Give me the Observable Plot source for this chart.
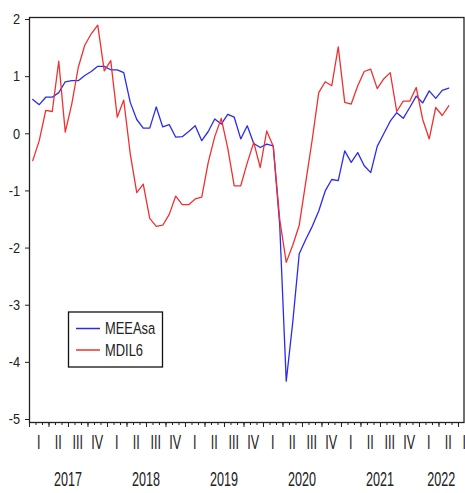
<!DOCTYPE html>
<html>
<head>
<meta charset="utf-8">
<script src="https://cdn.jsdelivr.net/npm/d3@7"></script>
<script src="https://cdn.jsdelivr.net/npm/@observablehq/plot@0.6"></script>
<style>
  html, body { margin: 0; padding: 0; background: #fff; }
  #chart svg { display: block; }
</style>
</head>
<body>
<div id="chart"></div>
<script>
// ---- Data (monthly, starting January 2017) ----
const startYear = 2017;
const seriesNames = ["MEEAsa", "MDIL6"];
const seriesColors = ["#2b2bf0", "#f03030"];

const meeasa = [
  0.60, 0.51, 0.64, 0.64, 0.72, 0.91, 0.93, 0.93, 1.02, 1.09,
  1.18, 1.18, 1.12, 1.12, 1.07, 0.55, 0.25, 0.10, 0.10, 0.47,
  0.12, 0.16, -0.06, -0.05, 0.04, 0.14, -0.12, 0.04, 0.26, 0.17,
  0.34, 0.29, -0.09, 0.14, -0.17, -0.24, -0.18, -0.21, -1.60, -4.33,
  -3.30, -2.10, -1.85, -1.62, -1.35, -1.00, -0.80, -0.82, -0.30, -0.50,
  -0.33, -0.56, -0.68, -0.22, 0.00, 0.22, 0.37, 0.27, 0.46, 0.66,
  0.54, 0.75, 0.62, 0.76, 0.80
];
const mdil6 = [
  -0.47, -0.12, 0.41, 0.39, 1.27, 0.03, 0.52, 1.16, 1.55, 1.75,
  1.90, 1.10, 1.28, 0.29, 0.59, -0.35, -1.03, -0.88, -1.48, -1.62,
  -1.60, -1.41, -1.09, -1.24, -1.24, -1.14, -1.11, -0.50, -0.05, 0.27,
  -0.25, -0.91, -0.91, -0.51, -0.15, -0.59, 0.05, -0.22, -1.50, -2.25,
  -1.95, -1.60, -0.85, -0.10, 0.72, 0.91, 0.84, 1.52, 0.55, 0.52,
  0.84, 1.09, 1.13, 0.79, 0.96, 1.07, 0.39, 0.57, 0.57, 0.81,
  0.25, -0.09, 0.46, 0.32, 0.49
];

const quarterLabels = ["I", "II", "III", "IV"];
const yearLabels = ["2017", "2018", "2019", "2020", "2021", "2022"];
const yTicks = [2, 1, 0, -1, -2, -3, -4, -5];

// ---- Build table ----
const rows = [];
[meeasa, mdil6].forEach((arr, s) => {
  arr.forEach((v, i) => rows.push({ t: i + 0.5, v, s: seriesNames[s] }));
});

const xMax = 66.85;
const monthTicks = d3.range(0, 67);
const quarterTicks = d3.range(0, 67, 3);

const FONT = "'Liberation Sans', Arial, Helvetica, sans-serif";

const plot = Plot.plot({
  width: 465,
  height: 493,
  marginLeft: 29,
  marginRight: 1.5,
  marginTop: 17,
  marginBottom: 71,
  style: { background: "#fff", fontFamily: FONT, overflow: "hidden" },
  x: { type: "linear", domain: [0, xMax], label: null },
  y: { domain: [-5.0525, 2.035], label: null },
  color: { domain: seriesNames, range: seriesColors },
  marks: [
    Plot.axisX(monthTicks, { tickSize: 3, tickFormat: () => "", stroke: "#222", label: null }),
    Plot.axisX(quarterTicks, { tickSize: 5, tickFormat: () => "", stroke: "#222", label: null }),
    Plot.axisY(yTicks, { tickSize: 4, tickFormat: () => "", stroke: "#222", label: null }),
    Plot.line(rows, { x: "t", y: "v", z: "s", stroke: "s", strokeWidth: 1.3 }),
    Plot.frame({ stroke: "#222", strokeWidth: 1.3 })
  ]
});

document.getElementById("chart").appendChild(plot);

// ---- Labels, drawn with the plot's own scales ----
const svg = d3.select(plot);
const xs = plot.scale("x");
const ys = plot.scale("y");
const X = v => xs.apply(v);
const Y = v => ys.apply(v);

function label(x, y, str, size, sx, anchor) {
  svg.append("text")
    .attr("transform", `translate(${x},${y}) scale(${sx},1)`)
    .attr("text-anchor", anchor)
    .attr("dy", "0.35em")
    .attr("font-size", size)
    .attr("font-family", FONT)
    .attr("fill", "#222")
    .text(str);
}

// y tick labels
yTicks.forEach(v => label(20, Y(v), String(v), 15, 0.85, "end"));

// quarter labels (include the partially visible one at the right edge)
const axisBottom = Y(-5.0525);
for (let k = 0; k * 3 + 1.5 < xMax + 2; k++) {
  label(X(k * 3 + 1.5), axisBottom + 20, quarterLabels[k % 4], 21, 0.6, "middle");
}
// year labels, centered on the visible part of each year
yearLabels.forEach((yr, j) => {
  const a = j * 12, b = Math.min(j * 12 + 12, xMax);
  label(X((a + b) / 2), axisBottom + 57, yr, 21, 0.6, "middle");
});

// ---- Legend ----
const lg = svg.append("g");
lg.append("rect").attr("x", 68.5).attr("y", 312).attr("width", 94).attr("height", 55)
  .attr("fill", "#fff").attr("stroke", "#111").attr("stroke-width", 1.3);
seriesNames.forEach((name, i) => {
  const yy = 328.5 + i * 21.5;
  lg.append("line").attr("x1", 76).attr("x2", 100).attr("y1", yy).attr("y2", yy)
    .attr("stroke", seriesColors[i]).attr("stroke-width", 1.5);
  lg.append("text")
    .attr("transform", `translate(105,${yy}) scale(0.76,1)`)
    .attr("text-anchor", "start")
    .attr("dy", "0.35em")
    .attr("font-size", 17)
    .attr("font-family", FONT)
    .attr("fill", "#222")
    .text(name);
});
</script>
</body>
</html>
